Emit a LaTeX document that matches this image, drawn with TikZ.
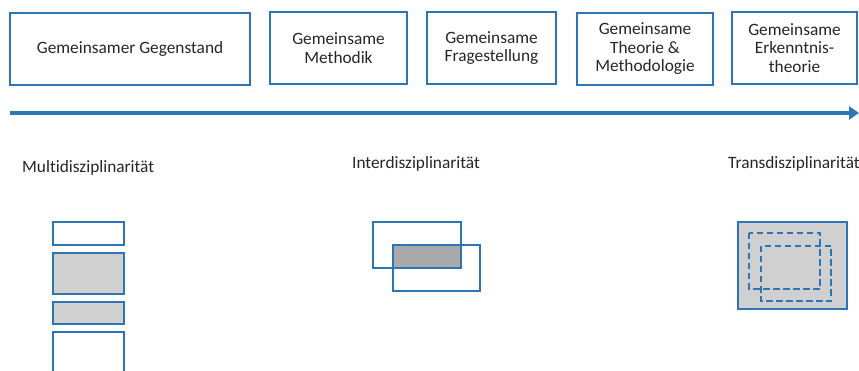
\documentclass[tikz,border=0pt]{standalone}
\usepackage{fontspec}
\setmainfont{Carlito}[Ligatures=NoCommon]
\usetikzlibrary{arrows.meta}
\definecolor{stufenblau}{HTML}{2E75B6}
\definecolor{hellgrau}{HTML}{D0D0D0}
\definecolor{dunkelgrau}{HTML}{A9A9A9}
\definecolor{schrift}{HTML}{262626}
\tikzset{
  stufe/.style={draw=stufenblau, line width=1.8pt, align=center, inner sep=0pt,
                minimum height=72pt, text=schrift,
                font=\fontsize{17.3}{18.5}\selectfont},
  titel/.style={anchor=base west, inner sep=0pt, text=schrift,
                font=\fontsize{17.3}{18.5}\selectfont},
  kasten/.style={draw=stufenblau, line width=2pt},
  gestrichelt/.style={draw=stufenblau, line width=2.2pt, dash pattern=on 6.5pt off 3.5pt},
  pfeil/.style={draw=stufenblau, line width=3.5pt, -{Triangle[length=10pt,width=13pt]}}
}
\begin{document}
\begin{tikzpicture}[x=1pt,y=-1pt]
   \useasboundingbox (0,0) rectangle (859,371);
   % Stufen
   \node[stufe, minimum width=240pt] (gegenstand) at (130,  49) {Gemeinsamer Gegenstand};
   \node[stufe, minimum width=137pt] (methodik)   at (338.5,48) {Gemeinsame\\Methodik};
   \node[stufe, minimum width=129pt] (frage)      at (491.5,48) {Gemeinsame\\Fragestellung};
   \node[stufe, minimum width=136pt] (theorie)    at (645,  49) {Gemeinsame\\Theorie \&\\Methodologie};
   \node[stufe, minimum width=125pt] (erkenntnis) at (794.5,48) {Gemeinsame\\Erkenntnis-\\theorie};
   \draw[pfeil] (10,113) -- (859,113);
   % Titel
   \node[titel] (multi) at ( 22,173) {Multidisziplinarität};
   \node[titel] (inter) at (352,169) {Interdisziplinarität};
   \node[titel] (trans) at (728,169) {Transdisziplinarität};
   % Multi
   \draw[kasten]                 (53,222) rectangle (124,245);
   \draw[kasten, fill=hellgrau]  (53,253) rectangle (124,294);
   \draw[kasten, fill=hellgrau]  (53,302) rectangle (124,324);
   \draw[kasten]                 (53,332) rectangle (124,380);
   % Inter
   \fill[dunkelgrau] (393,245) rectangle (461,268);
   \draw[kasten] (373,222) rectangle (461,268);
   \draw[kasten] (393,245) rectangle (480,291);
   % Trans
   \draw[kasten, fill=hellgrau] (738,222) rectangle (847,309);
   \draw[gestrichelt] (749,233) rectangle (820,289);
   \draw[gestrichelt] (761,246) rectangle (831,301);
\end{tikzpicture}
\end{document}
